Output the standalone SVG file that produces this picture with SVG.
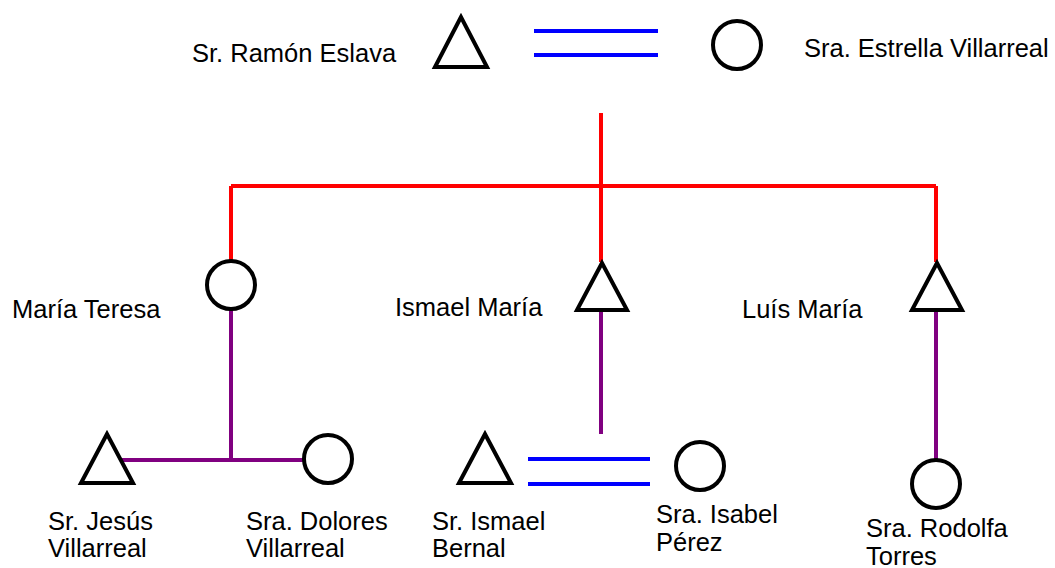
<svg xmlns="http://www.w3.org/2000/svg" width="1055" height="568" viewBox="0 0 1055 568">
<style>
.sym{fill:none;stroke:#000;stroke-width:4}
.red{stroke:#ff0000;stroke-width:4;fill:none}
.pur{stroke:#800080;stroke-width:4;fill:none}
.blue{stroke:#0000ff;stroke-width:4;fill:none}
text{font-family:"Liberation Sans",Arial,sans-serif;font-size:25.5px;fill:#000}
</style>
<rect width="1055" height="568" fill="#fff"/>
<g id="connectors">
<path class="red" d="M601,113V186M231,186H936M231,186V262M601,186V262M936,186V262"/>
<path class="pur" d="M231,310V460M120,460H305M601,310V434M936,310V459"/>
<path class="blue" d="M534,31H658M534,55H658M528,459H650M528,484H650"/>
</g>
<g id="ramon"><polygon class="sym" points="461,17 435,67 487,67"/><text x="192" y="62">Sr. Ramón Eslava</text></g>
<g id="estrella"><circle class="sym" cx="737" cy="45" r="24"/><text x="804" y="57">Sra. Estrella Villarreal</text></g>
<g id="mariateresa"><circle class="sym" cx="231" cy="285" r="24"/><text x="12" y="318">María Teresa</text></g>
<g id="ismaelmaria"><polygon class="sym" points="602,263 577,310 627,310"/><text x="395" y="316">Ismael María</text></g>
<g id="luismaria"><polygon class="sym" points="937,263 912,310 962,310"/><text x="742" y="318">Luís María</text></g>
<g id="jesus"><polygon class="sym" points="107,434 81,483 133,483"/><text x="48" y="530">Sr. Jesús</text><text x="48" y="557">Villarreal</text></g>
<g id="dolores"><circle class="sym" cx="328" cy="459" r="24"/><text x="246" y="530">Sra. Dolores</text><text x="246" y="557">Villarreal</text></g>
<g id="ismaelbernal"><polygon class="sym" points="485,434 459,483 511,483"/><text x="432" y="530">Sr. Ismael</text><text x="432" y="557">Bernal</text></g>
<g id="isabel"><circle class="sym" cx="700" cy="466" r="24"/><text x="656" y="523">Sra. Isabel</text><text x="656" y="551">Pérez</text></g>
<g id="rodolfa"><circle class="sym" cx="936" cy="484" r="24"/><text x="866" y="537">Sra. Rodolfa</text><text x="866" y="565">Torres</text></g>
</svg>
